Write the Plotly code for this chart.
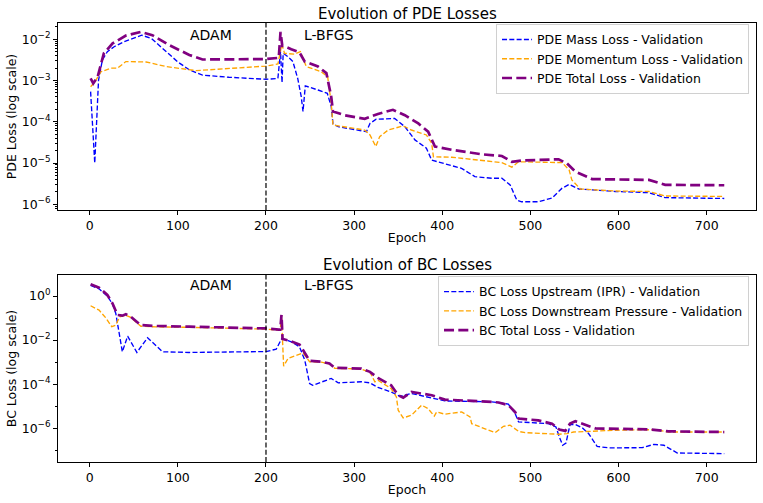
import plotly.graph_objects as go

# ---------------- data (epoch, log10 of loss) ----------------
pde_mass_epoch = [1, 5.7, 10, 14.4, 20, 27.7, 40, 59, 70, 86.5, 100, 113, 128, 158, 200, 213.5, 216.5,
                  218.2, 219.5, 224.8, 230.5, 236, 240, 242, 244.6, 259, 269.6, 274, 276, 282, 314, 318,
                  325, 346, 357.6, 369, 382, 388, 401, 422, 437, 456, 467.6, 477, 484.6, 490, 509, 524.5,
                  536, 544, 555, 596.5, 634.5, 653, 720]
pde_mass_log = [-3.27, -5.0, -2.99, -2.5, -2.3, -2.18, -2.05, -1.9, -1.98, -2.3, -2.55, -2.74, -2.87, -2.92,
                -2.97, -2.95, -2.3, -3.05, -2.34, -2.42, -2.54, -2.95, -3.39, -3.75, -3.13, -3.23, -3.31,
                -3.63, -4.05, -4.12, -4.24, -4.04, -3.94, -3.92, -4.12, -4.44, -4.64, -4.93, -5.0, -5.13,
                -5.33, -5.37, -5.37, -5.53, -5.9, -5.94, -5.94, -5.85, -5.61, -5.52, -5.63, -5.69, -5.72,
                -5.84, -5.86]

pde_mom_epoch = [1, 6, 12.5, 24, 31.5, 41, 64, 86.5, 120.6, 158.5, 200, 213.5, 218, 221, 232, 239, 245.7,
                 262.8, 270, 274, 276, 312, 318, 324.6, 329, 338.6, 355.7, 365, 382, 388, 390, 410.7, 445,
                 467.6, 479, 486.6, 536, 544, 547, 556.7, 596.5, 634.5, 653, 720]
pde_mom_log = [-3.15, -3.03, -2.79, -2.70, -2.70, -2.54, -2.55, -2.66, -2.76, -2.70, -2.65, -2.60, -2.12,
               -2.34, -2.36, -2.30, -2.66, -2.79, -2.91, -3.55, -4.08, -4.20, -4.32, -4.60, -4.36, -4.20,
               -4.10, -4.20, -4.32, -4.52, -4.85, -4.86, -4.94, -4.99, -5.10, -4.97, -4.99, -5.17, -5.41,
               -5.63, -5.68, -5.69, -5.80, -5.81]

pde_total_epoch = [1, 4, 9, 16, 26, 41, 58, 71, 90, 113, 128, 200, 214.5, 216.5, 218.5, 220, 228.7, 238,
                   244, 259, 268.5, 274, 276, 289, 312, 327, 344, 357.6, 372.8, 384, 391.7, 410.7, 445,
                   467.6, 479, 490, 532, 541.5, 551, 570, 634.5, 653, 720]
pde_total_log = [-2.95, -3.07, -2.91, -2.34, -2.10, -1.91, -1.82, -1.90, -2.14, -2.38, -2.49, -2.48, -2.45,
                 -1.82, -2.16, -2.16, -2.24, -2.32, -2.54, -2.66, -2.82, -3.39, -3.75, -3.84, -3.93, -3.81,
                 -3.71, -3.84, -4.04, -4.24, -4.60, -4.68, -4.79, -4.83, -4.97, -4.94, -4.91, -5.01, -5.21,
                 -5.39, -5.41, -5.53, -5.54]

bc_up_epoch = [1, 10.6, 20, 25.8, 29.6, 37, 43, 53.5, 65.6, 82.7, 113, 200, 211.6, 217, 218, 228.7, 238,
               244, 249.5, 253, 274, 282, 308, 318, 327, 342, 352, 365, 388, 403, 456, 475, 482.7, 486.6,
               520.7, 529, 532.8, 536.6, 540.4, 545, 551, 558.6, 566, 575.7, 589, 627, 640, 651.5, 666.7,
               720]
bc_up_log = [0.48, 0.33, 0.0, -0.36, -0.79, -2.53, -1.82, -2.56, -1.89, -2.53, -2.56, -2.52, -2.41, -2.0,
             -1.92, -2.08, -2.30, -2.91, -3.97, -4.05, -3.74, -3.94, -3.89, -3.94, -4.15, -4.35, -4.55,
             -4.42, -4.61, -4.76, -4.80, -4.90, -5.33, -5.71, -5.79, -5.94, -6.39, -6.77, -6.67, -5.83,
             -5.83, -5.97, -6.24, -6.82, -6.89, -6.88, -6.73, -6.77, -7.12, -7.15]

bc_down_epoch = [1, 10.6, 18, 25, 29.6, 34, 41, 46.6, 58, 75, 113, 200, 214.6, 216.2, 217.6, 219, 220, 225,
                 234, 242, 249.5, 262.8, 272, 278, 308, 318, 323.5, 327, 342, 348, 350, 355.7, 365, 376.6,
                 384, 391, 393.6, 403, 422, 431.5, 433.4, 448.6, 460, 469.5, 477, 486.6, 494, 532, 541.5,
                 549, 596.5, 642, 657, 720]
bc_down_log = [-0.44, -0.64, -0.98, -1.39, -1.32, -0.94, -0.87, -0.97, -1.37, -1.40, -1.42, -1.50, -1.55,
               -1.55, -0.88, -1.9, -3.18, -2.83, -2.68, -2.58, -2.98, -3.00, -3.08, -3.28, -3.31, -3.46,
               -3.89, -3.82, -4.20, -4.58, -5.18, -5.53, -5.41, -4.95, -5.11, -5.45, -5.26, -5.36, -5.26,
               -5.48, -5.79, -6.02, -6.20, -5.91, -5.86, -6.14, -6.20, -6.27, -6.24, -6.17, -6.09, -6.06,
               -6.17, -6.17]

bc_total_epoch = [1, 10.6, 20, 25.8, 31.5, 37, 41, 46.6, 58, 75, 113, 200, 214.6, 216.2, 217.6, 218.8,
                  226.7, 230.5, 238, 242, 249.5, 262.8, 272, 278, 308, 318, 327, 342, 350, 355.7, 365, 388,
                  403, 456, 464, 475, 482.7, 486.6, 509, 524.5, 532.8, 539.6, 545, 551, 562, 574, 634.5,
                  657, 720]
bc_total_log = [0.53, 0.38, 0.05, -0.33, -0.86, -0.89, -0.83, -0.94, -1.32, -1.36, -1.39, -1.47, -1.52,
                -1.52, -0.86, -1.95, -2.03, -2.08, -2.20, -2.45, -2.94, -2.98, -3.06, -3.26, -3.29, -3.44,
                -3.71, -4.05, -4.50, -4.61, -4.35, -4.50, -4.70, -4.80, -4.83, -4.95, -5.26, -5.56, -5.64,
                -5.79, -6.06, -6.12, -5.79, -5.68, -5.83, -6.01, -6.05, -6.14, -6.17]

x_ticks = [0, 100, 200, 300, 400, 500, 600, 700]
pde_tick_exp = [-6, -5, -4, -3, -2]
bc_tick_exp = [-6, -4, -2, 0]
switch_epoch = 200

# ---------------- figure ----------------
FONT = "DejaVu Sans"
thin = dict(width=1.35, dash="5px,2.3px")
thick = dict(width=2.7, dash="10px,4.3px")


def vals(logs):
    return [10 ** v for v in logs]


def sup(e):
    return "10<sup>" + ("\u2212" + str(-e) if e < 0 else str(e)) + "</sup>"


fig = go.Figure()
fig.add_trace(go.Scatter(x=pde_mass_epoch, y=vals(pde_mass_log), mode="lines",
                         name="PDE Mass Loss - Validation", line=dict(color="blue", **thin),
                         xaxis="x", yaxis="y", legend="legend"))
fig.add_trace(go.Scatter(x=pde_mom_epoch, y=vals(pde_mom_log), mode="lines",
                         name="PDE Momentum Loss - Validation", line=dict(color="orange", **thin),
                         xaxis="x", yaxis="y", legend="legend"))
fig.add_trace(go.Scatter(x=pde_total_epoch, y=vals(pde_total_log), mode="lines",
                         name="PDE Total Loss - Validation", line=dict(color="purple", **thick),
                         xaxis="x", yaxis="y", legend="legend"))
fig.add_trace(go.Scatter(x=bc_up_epoch, y=vals(bc_up_log), mode="lines",
                         name="BC Loss Upstream (IPR) - Validation", line=dict(color="blue", **thin),
                         xaxis="x2", yaxis="y2", legend="legend2"))
fig.add_trace(go.Scatter(x=bc_down_epoch, y=vals(bc_down_log), mode="lines",
                         name="BC Loss Downstream Pressure - Validation", line=dict(color="orange", **thin),
                         xaxis="x2", yaxis="y2", legend="legend2"))
fig.add_trace(go.Scatter(x=bc_total_epoch, y=vals(bc_total_log), mode="lines",
                         name="BC Total Loss - Validation", line=dict(color="purple", **thick),
                         xaxis="x2", yaxis="y2", legend="legend2"))

axis_common = dict(showline=True, mirror=True, linecolor="black", linewidth=1, ticks="outside",
                   ticklen=4, tickwidth=1, tickcolor="black", showgrid=False, zeroline=False,
                   tickfont=dict(family=FONT, size=12.5, color="black"), automargin=False)

top_minor = [m * 10.0 ** k for k in range(-7, -1) for m in range(2, 10)]
bc_minor = [10.0 ** k for k in (-7, -5, -3, -1)]

fig.update_layout(
    width=763, height=503, template="none",
    paper_bgcolor="white", plot_bgcolor="white",
    margin=dict(l=58, r=7, t=23, b=41),
    font=dict(family=FONT, size=12.5, color="black"),
    xaxis=dict(domain=[0, 1], anchor="y", range=[-36, 756], tickvals=x_ticks,
               title=dict(text="Epoch", standoff=1, font=dict(size=12.5)), **axis_common),
    yaxis=dict(domain=[0.574, 1], anchor="x", type="log", range=[-6.14, -1.605],
               tickvals=[10.0 ** e for e in pde_tick_exp], ticktext=[sup(e) for e in pde_tick_exp],
               minor=dict(tickvals=top_minor, ticks="outside", ticklen=2, tickwidth=0.7, tickcolor="black"),
               title=dict(text="PDE Loss (log scale)", standoff=2, font=dict(size=12.5)), **axis_common),
    xaxis2=dict(domain=[0, 1], anchor="y2", range=[-36, 756], tickvals=x_ticks,
                title=dict(text="Epoch", standoff=1, font=dict(size=12.5)), **axis_common),
    yaxis2=dict(domain=[0, 0.426], anchor="x2", type="log", range=[-7.53, 0.955],
                tickvals=[10.0 ** e for e in bc_tick_exp], ticktext=[sup(e) for e in bc_tick_exp],
                minor=dict(tickvals=bc_minor, ticks="outside", ticklen=2, tickwidth=0.7, tickcolor="black"),
                title=dict(text="BC Loss (log scale)", standoff=2, font=dict(size=12.5)), **axis_common),
    legend=dict(x=0.99, y=0.998, xanchor="right", yanchor="top", bgcolor="white",
                bordercolor="#d0d0d0", borderwidth=1, font=dict(family=FONT, size=12.5),
                itemwidth=30, tracegroupgap=0),
    legend2=dict(x=0.99, y=0.4237, xanchor="right", yanchor="top", bgcolor="white",
                 bordercolor="#d0d0d0", borderwidth=1, font=dict(family=FONT, size=12.5),
                 itemwidth=30, tracegroupgap=0),
    showlegend=True,
)

for xr, yr in (("x", "y"), ("x2", "y2")):
    fig.add_shape(type="line", xref=xr, yref=yr + " domain", x0=switch_epoch, x1=switch_epoch, y0=0, y1=1,
                  line=dict(color="black", width=1.2, dash="5px,2.3px"))

fig.add_annotation(text="ADAM", x=111, y=-1.896, xref="x", yref="y", xanchor="left", yanchor="middle",
                   showarrow=False, font=dict(family=FONT, size=14, color="black"))
fig.add_annotation(text="L-BFGS", x=241, y=-1.896, xref="x", yref="y", xanchor="left", yanchor="middle",
                   showarrow=False, font=dict(family=FONT, size=14, color="black"))
fig.add_annotation(text="ADAM", x=111, y=0.5, xref="x2", yref="y2", xanchor="left", yanchor="middle",
                   showarrow=False, font=dict(family=FONT, size=14, color="black"))
fig.add_annotation(text="L-BFGS", x=241, y=0.5, xref="x2", yref="y2", xanchor="left", yanchor="middle",
                   showarrow=False, font=dict(family=FONT, size=14, color="black"))
fig.add_annotation(text="Evolution of PDE Losses", x=0.5, y=1.0205, xref="paper", yref="paper",
                   xanchor="center", yanchor="middle", showarrow=False,
                   font=dict(family=FONT, size=15, color="black"))
fig.add_annotation(text="Evolution of BC Losses", x=0.5, y=0.4487, xref="paper", yref="paper",
                   xanchor="center", yanchor="middle", showarrow=False,
                   font=dict(family=FONT, size=15, color="black"))

# remove the browser's default 8px page margin so the 763x503 figure fills the window exactly
fig.write_html("out.html", config={"displayModeBar": False},
               post_script="document.body.style.margin='0';"
                           "document.documentElement.style.overflow='hidden';")
